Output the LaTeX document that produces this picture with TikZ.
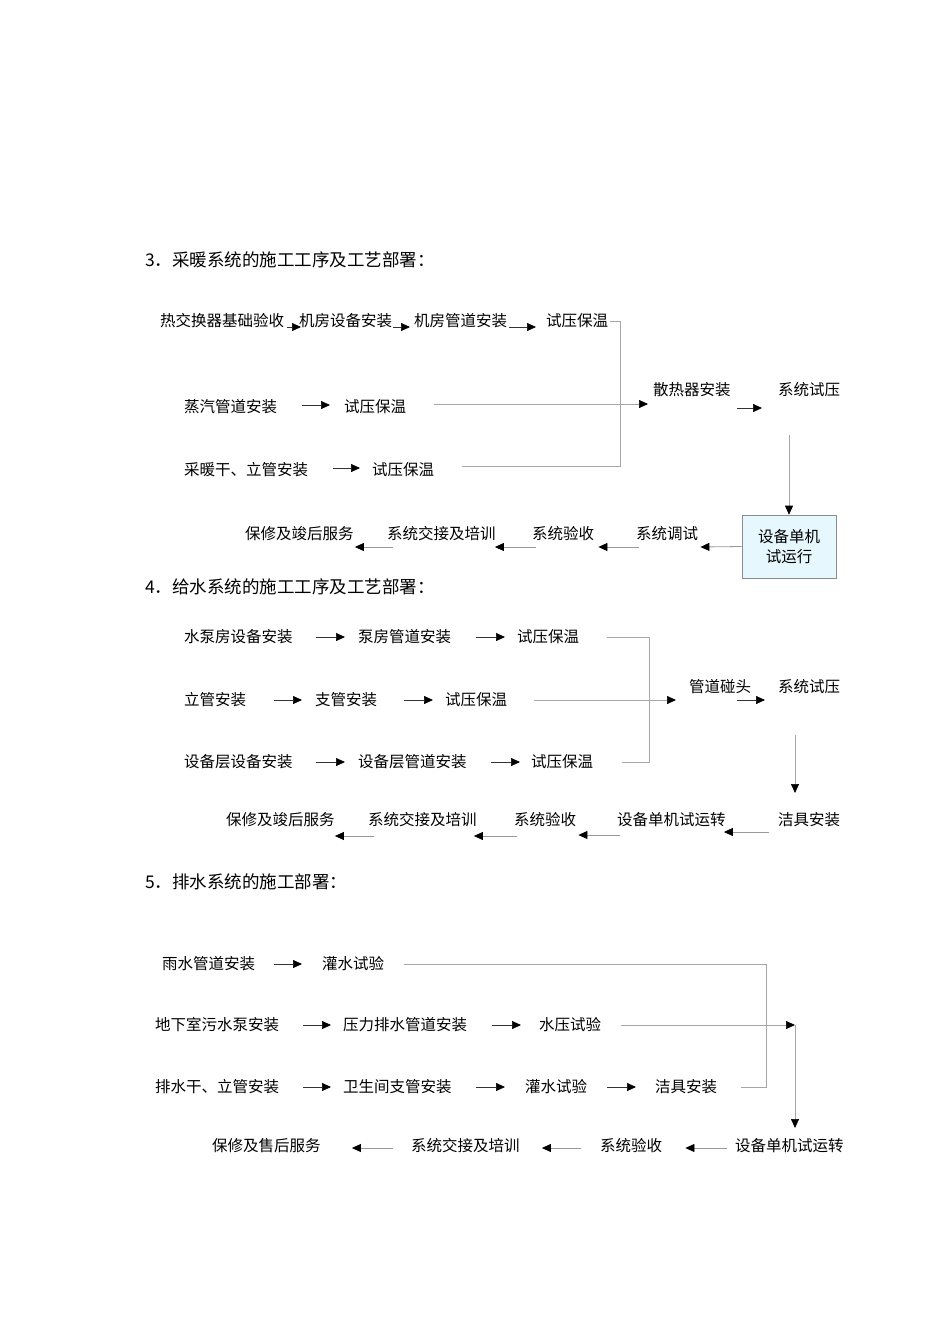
\documentclass[tikz,border=0pt]{standalone}
\usepackage{fontspec}
\setmainfont{Noto Sans CJK SC}
\usetikzlibrary{arrows.meta,calc}
\tikzset{
  txt/.style={anchor=west,inner sep=0pt,font=\fontsize{15.5}{18}\selectfont},
  ttl/.style={anchor=west,inner sep=0pt,font=\fontsize{17.5}{20}\selectfont},
  fwd/.style={draw=black!80,line width=0.7pt,-{Triangle[length=9pt,width=8pt,black]}},
  back/.style={draw=black!40,line width=0.8pt,-{Triangle[length=9pt,width=8pt,black]}},
  conn/.style={draw=black!35,line width=0.7pt},
  gfwd/.style={draw=black!35,line width=0.7pt,-{Triangle[length=9pt,width=8pt,black]}},
  boxst/.style={draw=black!45,fill=cyan!10,line width=0.6pt,minimum width=94pt,minimum height=63pt,inner sep=2pt,align=center,font=\fontsize{15.5}{19.5}\selectfont}
}
\begin{document}
\begin{tikzpicture}[x=1pt,y=-1pt]
\useasboundingbox (0,0) rectangle (950,1344);
% ---------- Section 3 ----------
\node[ttl] (t3) at (145,260) {3．采暖系统的施工工序及工艺部署：};
\node[txt] (a1) at (160,321) {热交换器基础验收};
\node[txt] (a2) at (299,321) {机房设备安装};
\node[txt] (a3) at (414,321) {机房管道安装};
\node[txt] (a4) at (546,321) {试压保温};
\node[txt] (b1) at (184,407) {蒸汽管道安装};
\node[txt] (b2) at (344,407) {试压保温};
\node[txt] (c1) at (184,470) {采暖干、立管安装};
\node[txt] (c2) at (372,470) {试压保温};
\node[txt] (d1) at (653,390) {散热器安装};
\node[txt] (d2) at (778,390) {系统试压};
\node[boxst] (e) at (789,546.5) {设备单机\\试运行};
\node[txt] (f1) at (636,534) {系统调试};
\node[txt] (f2) at (532,534) {系统验收};
\node[txt] (f3) at (387,534) {系统交接及培训};
\node[txt] (f4) at (245,534) {保修及竣后服务};
\coordinate (m3) at (620,466);
\coordinate (v3) at (789,435);

\draw[fwd] ([shift={(3,6)}]a1.east) -- ([shift={(2,6)}]a2.west);
\draw[fwd] ([shift={(1,6)}]a2.east) -- ([shift={(-4,6)}]a3.west);
\draw[fwd] ([shift={(2,6)}]a3.east) -- ([shift={(-10,6)}]a4.west);
\draw[conn] ([xshift=2pt]a4.east) -| (m3) -- ([shift={(28,-4)}]c2.east);
\draw[fwd] ([shift={(25,-2)}]b1.east) -- ([shift={(-14,-2)}]b2.west);
\draw[gfwd] ([shift={(28,-3)}]b2.east) -- ([shift={(-5,14)}]d1.west);
\draw[fwd] ([shift={(25,-2)}]c1.east) -- ([shift={(-12,-2)}]c2.west);
\draw[fwd] ([shift={(6,18)}]d1.east) -- ([shift={(-16,18)}]d2.west);
\draw[gfwd] (v3) -- (e.north);
\draw[back] (e.west) -- ([shift={(2,13)}]f1.east);
\draw[back] ([shift={(3,13)}]f1.west) -- ([shift={(4,13)}]f2.east);
\draw[back] ([shift={(4,13)}]f2.west) -- ([shift={(-1,13)}]f3.east);
\draw[back] ([shift={(6,13)}]f3.west) -- ([shift={(1,13)}]f4.east);

% ---------- Section 4 ----------
\node[ttl] (t4) at (145,587) {4．给水系统的施工工序及工艺部署：};
\node[txt] (g1) at (184,637) {水泵房设备安装};
\node[txt] (g2) at (358,637) {泵房管道安装};
\node[txt] (g3) at (517,637) {试压保温};
\node[txt] (h1) at (184,700) {立管安装};
\node[txt] (h2) at (315,700) {支管安装};
\node[txt] (h3) at (445,700) {试压保温};
\node[txt] (i1) at (184,762) {设备层设备安装};
\node[txt] (i2) at (358,762) {设备层管道安装};
\node[txt] (i3) at (531,762) {试压保温};
\node[txt] (k1) at (689,687) {管道碰头};
\node[txt] (k2) at (778,687) {系统试压};
\node[txt] (l1) at (778,820) {洁具安装};
\node[txt] (m1) at (617,820) {设备单机试运转};
\node[txt] (m2) at (514,820) {系统验收};
\node[txt] (m3b) at (368,820) {系统交接及培训};
\node[txt] (m4) at (226,820) {保修及竣后服务};
\coordinate (j4) at (649,762);
\coordinate (v4) at (795,735);
\coordinate (w4) at (795,793);

\draw[fwd] ([xshift=23pt]g1.east) -- ([xshift=-13pt]g2.west);
\draw[fwd] ([xshift=25pt]g2.east) -- ([xshift=-12pt]g3.west);
\draw[conn] ([xshift=28pt]g3.east) -| (j4) -- ([xshift=29pt]i3.east);
\draw[fwd] ([xshift=28pt]h1.east) -- ([xshift=-13pt]h2.west);
\draw[fwd] ([xshift=27pt]h2.east) -- ([xshift=-12pt]h3.west);
\draw[gfwd] ([xshift=27pt]h3.east) -- ([shift={(-13,13)}]k1.west);
\draw[fwd] ([xshift=23pt]i1.east) -- ([xshift=-13pt]i2.west);
\draw[fwd] ([xshift=24pt]i2.east) -- ([xshift=-11pt]i3.west);
\draw[fwd] ([shift={(-14,13)}]k1.east) -- ([shift={(-13,13)}]k2.west);
\draw[gfwd] (v4) -- (w4);
\draw[back] ([shift={(-9,12)}]l1.west) -- ([shift={(-2,12)}]m1.east);
\draw[back] ([shift={(3,15)}]m1.west) -- ([shift={(2,15)}]m2.east);
\draw[back] ([shift={(3,16)}]m2.west) -- ([shift={(-3,16)}]m3b.east);
\draw[back] ([shift={(6,16)}]m3b.west) -- ([shift={(0,16)}]m4.east);

% ---------- Section 5 ----------
\node[ttl] (t5) at (145,882) {5．排水系统的施工部署：};
\node[txt] (n1) at (162,964) {雨水管道安装};
\node[txt] (n2) at (322,964) {灌水试验};
\node[txt] (p1) at (155,1025) {地下室污水泵安装};
\node[txt] (p2) at (343,1025) {压力排水管道安装};
\node[txt] (p3) at (539,1025) {水压试验};
\node[txt] (q1) at (155,1087) {排水干、立管安装};
\node[txt] (q2) at (343,1087) {卫生间支管安装};
\node[txt] (q3) at (525,1087) {灌水试验};
\node[txt] (q4) at (655,1087) {洁具安装};
\node[txt] (r1) at (735,1146) {设备单机试运转};
\node[txt] (r2) at (600,1146) {系统验收};
\node[txt] (r3) at (411,1146) {系统交接及培训};
\node[txt] (r4) at (212,1146) {保修及售后服务};
\coordinate (j5a) at (766,1087);
\coordinate (j5) at (795,1025);
\coordinate (e5) at (795,1128);

\draw[fwd] ([xshift=19pt]n1.east) -- ([xshift=-20pt]n2.west);
\draw[conn] ([xshift=20pt]n2.east) -| (j5a) -- ([xshift=24pt]q4.east);
\draw[fwd] ([xshift=24pt]p1.east) -- ([xshift=-12pt]p2.west);
\draw[fwd] ([xshift=25pt]p2.east) -- ([xshift=-18pt]p3.west);
\draw[gfwd] ([xshift=20pt]p3.east) -- (j5);
\draw[gfwd] (j5) -- (e5);
\draw[fwd] ([xshift=24pt]q1.east) -- ([xshift=-12pt]q2.west);
\draw[fwd] ([xshift=24pt]q2.east) -- ([xshift=-20pt]q3.west);
\draw[fwd] ([xshift=20pt]q3.east) -- ([xshift=-19pt]q4.west);
\draw[back] ([shift={(-8,2)}]r1.west) -- ([shift={(23,2)}]r2.east);
\draw[back] ([shift={(-19,2)}]r2.west) -- ([shift={(22,2)}]r3.east);
\draw[back] ([shift={(-18,2)}]r3.west) -- ([shift={(31,2)}]r4.east);
\end{tikzpicture}
\end{document}
